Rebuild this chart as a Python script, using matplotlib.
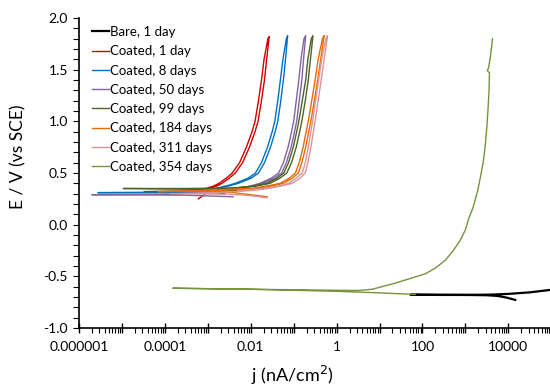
import numpy as np
import matplotlib.pyplot as plt
from matplotlib.ticker import FixedLocator, FixedFormatter

plt.rcParams['font.family'] = ['Lato', 'DejaVu Sans']

# log10 of j (nA/cm2) and E (V vs SCE)
bare_logj = [4.16, 3.95, 3.75, 3.5, 3.0, 2.4, 1.72, 2.4, 3.0, 3.6, 4.0, 4.5, 5.0]
bare_e = [-0.728, -0.705, -0.690, -0.683, -0.680, -0.679, -0.678, -0.680, -0.680, -0.677, -0.670, -0.655, -0.630]

c1_logj = [-3.22, -3.08, -2.97, -2.78, -2.67, -2.50, -2.36, -2.19, -2.03, -1.90, -1.83,
           -1.75, -1.68, -1.63, -1.57,
           -1.60, -1.69, -1.75, -1.82, -1.90, -1.97, -2.10, -2.26, -2.43, -2.57, -2.74,
           -2.86, -3.04, -3.3, -3.6]
c1_e = [0.25, 0.29, 0.35, 0.375, 0.40, 0.45, 0.50, 0.60, 0.75, 0.90, 1.00,
        1.20, 1.40, 1.60, 1.82,
        1.80, 1.60, 1.40, 1.20, 1.00, 0.90, 0.75, 0.60, 0.50, 0.45, 0.40,
        0.375, 0.35, 0.335, 0.33]

c8_logj = [-2.6, -3.5, -5.56, -3.5, -3.0, -2.75, -2.50, -2.29, -1.99, -1.82, -1.68, -1.54,
           -1.43, -1.37, -1.30, -1.24, -1.19, -1.14,
           -1.17, -1.25, -1.31, -1.37, -1.44, -1.50, -1.61, -1.75, -1.89, -2.06, -2.36,
           -2.57, -2.82, -3.1, -3.5]
c8_e = [0.30, 0.31, 0.31, 0.315, 0.33, 0.35, 0.375, 0.40, 0.45, 0.50, 0.60, 0.75,
        0.90, 1.00, 1.20, 1.40, 1.60, 1.83,
        1.80, 1.60, 1.40, 1.20, 1.00, 0.90, 0.75, 0.60, 0.50, 0.45, 0.40,
        0.375, 0.35, 0.335, 0.325]

c50_logj = [-2.41, -3.5, -5.70, -4.0, -3.0, -2.4, -2.15, -1.92, -1.71, -1.45, -1.28, -1.17,
            -1.06, -0.98, -0.93, -0.87, -0.81, -0.77, -0.72,
            -0.76, -0.83, -0.88, -0.94, -1.00, -1.05, -1.13, -1.24, -1.35, -1.52, -1.79,
            -2.0, -2.25, -2.6, -3.0]
c50_e = [0.27, 0.285, 0.29, 0.295, 0.31, 0.33, 0.35, 0.375, 0.40, 0.45, 0.50, 0.60,
         0.75, 0.90, 1.00, 1.20, 1.40, 1.60, 1.83,
         1.80, 1.60, 1.40, 1.20, 1.00, 0.90, 0.75, 0.60, 0.50, 0.45, 0.40,
         0.375, 0.35, 0.34, 0.335]

c99_logj = [-2.2, -3.5, -4.97, -3.5, -2.5, -2.1, -1.85, -1.55, -1.32, -1.16, -1.05, -0.94,
            -0.86, -0.81, -0.73, -0.66, -0.61, -0.55,
            -0.59, -0.67, -0.72, -0.80, -0.88, -0.93, -1.01, -1.12, -1.23, -1.39, -1.63,
            -1.95, -2.4, -3.2, -4.48]
c99_e = [0.33, 0.345, 0.35, 0.35, 0.355, 0.365, 0.375, 0.40, 0.45, 0.50, 0.60, 0.75,
         0.90, 1.00, 1.20, 1.40, 1.60, 1.83,
         1.80, 1.60, 1.40, 1.20, 1.00, 0.90, 0.75, 0.60, 0.50, 0.45, 0.40,
         0.375, 0.35, 0.33, 0.32]

c184_logj = [-1.62, -2.0, -2.4, -2.88, -4.16, -3.0, -2.3, -1.90, -1.50, -1.24, -1.03, -0.89,
             -0.81, -0.72, -0.65, -0.60, -0.52, -0.44, -0.37, -0.29,
             -0.33, -0.43, -0.50, -0.58, -0.66, -0.71, -0.78, -0.87, -0.96, -1.10, -1.32,
             -1.6, -2.0, -2.6, -3.2]
c184_e = [0.27, 0.29, 0.31, 0.325, 0.32, 0.33, 0.34, 0.35, 0.375, 0.40, 0.45, 0.50,
          0.60, 0.75, 0.90, 1.00, 1.20, 1.40, 1.60, 1.83,
          1.80, 1.60, 1.40, 1.20, 1.00, 0.90, 0.75, 0.60, 0.50, 0.45, 0.40,
          0.375, 0.35, 0.34, 0.33]

c311_logj = [-1.62, -2.0, -2.5, -3.88, -2.8, -2.0, -1.60, -1.28, -1.04, -0.85, -0.73, -0.67,
             -0.60, -0.54, -0.50, -0.43, -0.36, -0.29, -0.21,
             -0.25, -0.35, -0.42, -0.49, -0.56, -0.60, -0.66, -0.73, -0.80, -0.94, -1.12,
             -1.35, -1.7, -2.3]
c311_e = [0.26, 0.28, 0.295, 0.30, 0.31, 0.33, 0.35, 0.375, 0.40, 0.45, 0.50, 0.60,
          0.75, 0.90, 1.00, 1.20, 1.40, 1.60, 1.83,
          1.80, 1.60, 1.40, 1.20, 1.00, 0.90, 0.75, 0.60, 0.50, 0.45, 0.40,
          0.375, 0.35, 0.33]

c354_logj = [1.83, 1.0, 0.0, -2.0, -3.81, -2.0, 0.0, 0.5, 0.83, 1.1, 1.37, 1.72, 2.07, 2.30,
             2.53, 2.72, 2.88, 3.0, 3.07, 3.18, 3.28, 3.35, 3.42, 3.46, 3.50, 3.53, 3.55,
             3.56, 3.51, 3.54, 3.58, 3.61, 3.63]
c354_e = [-0.675, -0.66, -0.645, -0.625, -0.615, -0.625, -0.635, -0.637, -0.625, -0.595,
          -0.565, -0.52, -0.475, -0.42, -0.345, -0.25, -0.15, -0.05, 0.05, 0.17, 0.32,
          0.46, 0.62, 0.76, 0.95, 1.14, 1.30, 1.47, 1.49, 1.52, 1.62, 1.72, 1.80]

labels = ['Bare, 1 day', 'Coated, 1 day', 'Coated, 8 days', 'Coated, 50 days',
          'Coated, 99 days', 'Coated, 184 days', 'Coated, 311 days', 'Coated, 354 days']
colors = ['#000000', '#cc0000', '#0070c0', '#8064a2', '#4f6228', '#e46c0a', '#d99694', '#77933c']

series = [(bare_logj, bare_e), (c1_logj, c1_e), (c8_logj, c8_e), (c50_logj, c50_e),
          (c99_logj, c99_e), (c184_logj, c184_e), (c311_logj, c311_e), (c354_logj, c354_e)]

fig = plt.figure(figsize=(5.5, 3.86), dpi=100)
ax = fig.add_axes([79 / 550, 58 / 386, 471 / 550, 310 / 386])

for (lj, e), lab, col in zip(series, labels, colors):
    lw = 1.6 if lab.startswith('Bare') else 1.0
    ax.plot(np.power(10.0, lj), e, color=col, lw=lw, label=lab)

ax.set_xscale('log')
ax.set_xlim(1e-6, 10 ** 4.97)
ax.set_ylim(-1.0, 2.0)

decades = [10.0 ** k for k in range(-6, 5)]
ax.xaxis.set_major_locator(FixedLocator(decades))
ax.xaxis.set_major_formatter(FixedFormatter(
    ['0.000001', '', '0.0001', '', '0.01', '', '1', '', '100', '', '10000']))
minors = [m * 10.0 ** k for k in range(-6, 5) for m in range(2, 10)]
ax.xaxis.set_minor_locator(FixedLocator(minors))
ax.xaxis.set_minor_formatter(FixedFormatter([''] * len(minors)))

ax.set_yticks(np.arange(-1.0, 2.01, 0.5))
ax.set_yticklabels(['-1.0', '-0.5', '0.0', '0.5', '1.0', '1.5', '2.0'])
ax.set_yticks(np.arange(-1.0, 2.01, 0.1), minor=True)

ax.tick_params(axis='x', which='major', direction='inout', length=7, width=1, labelsize=10, pad=6)
ax.tick_params(axis='x', which='minor', direction='out', length=3.5, width=0.8)
ax.tick_params(axis='y', which='both', direction='out', length=4, width=0.8, labelsize=10, pad=4)

for side in ['top', 'right']:
    ax.spines[side].set_visible(False)
ax.spines['left'].set_linewidth(1.2)
ax.spines['bottom'].set_linewidth(1.2)

fig.text(18 / 550, 1 - 157 / 386, 'E / V (vs SCE)', fontsize=12.5, rotation=90,
         ha='center', va='center')
fig.text(292 / 550, 1 - 375 / 386, 'j (nA/cm$^2$)', fontsize=13, ha='center', va='center')

ax.legend(loc='upper left', bbox_to_anchor=(92 / 550, 1 - 26 / 386),
          bbox_transform=fig.transFigure, frameon=False, fontsize=9.5,
          handlelength=1.3, handletextpad=0.1, labelspacing=0.55, borderpad=0, borderaxespad=0)

fig.savefig('out.png', dpi=100)
